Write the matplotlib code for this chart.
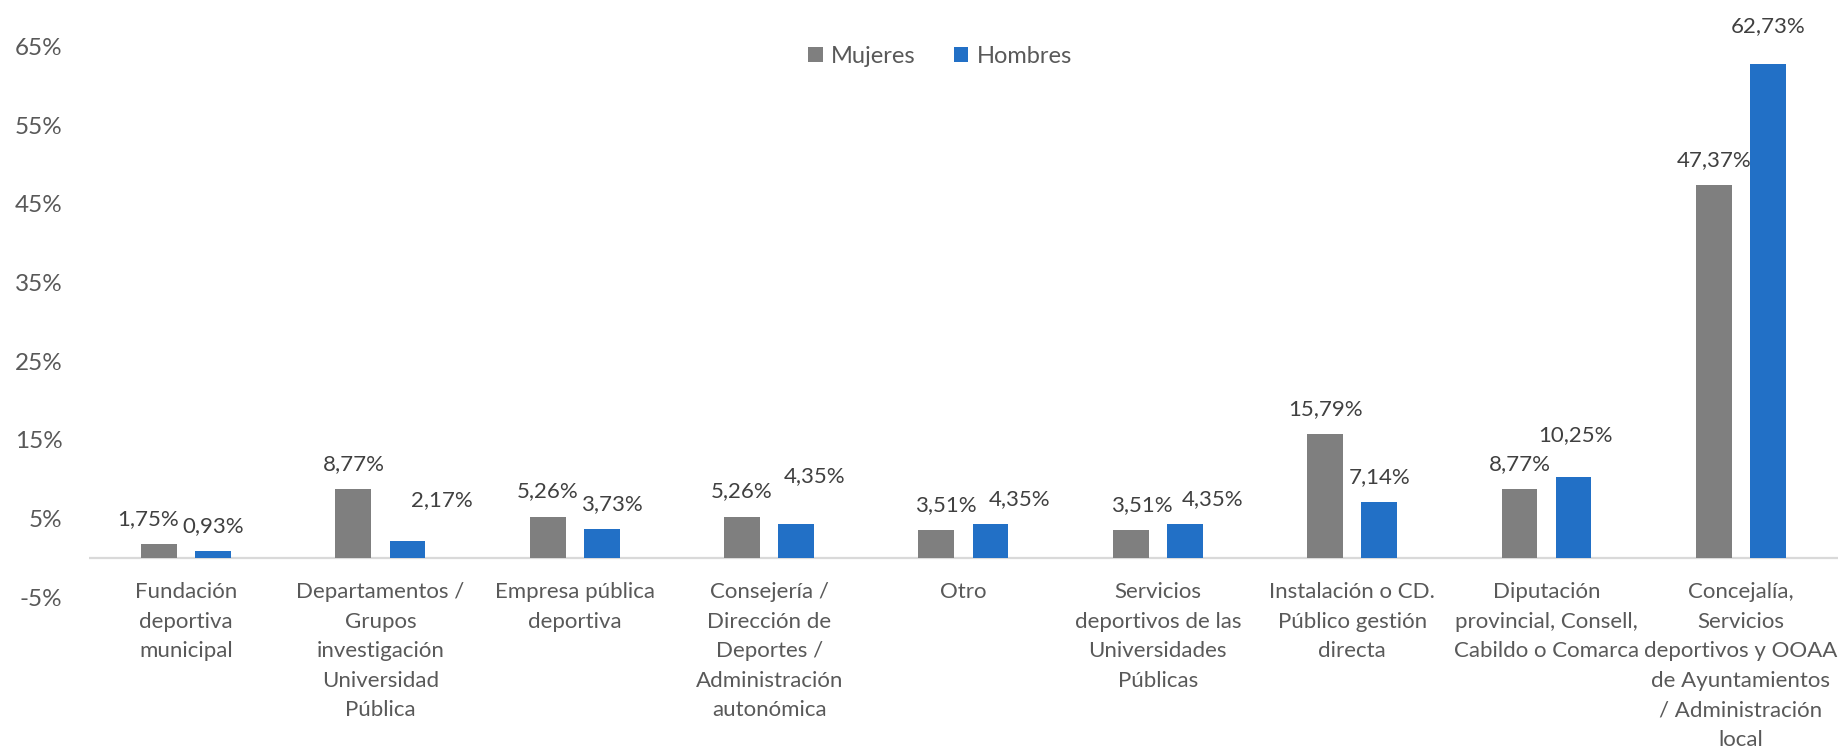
import matplotlib
matplotlib.use("Agg")
import matplotlib.pyplot as plt
import numpy as np

plt.rcParams["font.family"] = ["Lato", "DejaVu Sans"]

# ── Data ──────────────────────────────────────────────────────────────────────
CATEGORIES = [
    "Fundación\ndeportiva\nmunicipal",
    "Departamentos /\nGrupos\ninvestigación\nUniversidad\nPública",
    "Empresa pública\ndeportiva",
    "Consejería /\nDirección de\nDeportes /\nAdministración\nautonómica",
    "Otro",
    "Servicios\ndeportivos de las\nUniversidades\nPúblicas",
    "Instalación o CD.\nPúblico gestión\ndirecta",
    "Diputación\nprovincial, Consell,\nCabildo o Comarca",
    "Concejalía,\nServicios\ndeportivos y OOAA\nde Ayuntamientos\n/ Administración\nlocal",
]
MUJERES = [1.75, 8.77, 5.26, 5.26, 3.51, 3.51, 15.79, 8.77, 47.37]
HOMBRES = [0.93, 2.17, 3.73, 4.35, 4.35, 4.35, 7.14, 10.25, 62.73]
Y_TICKS = [-5, 5, 15, 25, 35, 45, 55, 65]

GRAY = "#7F7F7F"
BLUE = "#2270C6"
TEXT = "#595959"
LABEL = "#404040"

# label nudges (pixels) where the original moved labels to avoid overlap
NUDGE = {
    (0, 0): (-11, 0),
    (1, 1): (34, 16),
    (1, 2): (10, 0),
    (1, 3): (18, 23),
    (0, 4): (9, 0),
    (1, 4): (29, 0),
    (0, 5): (11, 0),
    (1, 5): (28, 0),
    (1, 7): (2, 17),
    (1, 8): (0, 13),
}

# ── Plot ──────────────────────────────────────────────────────────────────────
fig = plt.figure(figsize=(18.38, 7.5), dpi=100)
ax = fig.add_axes([0.0484, 0.2036, 0.9516, 0.7345])

x = np.arange(len(CATEGORIES))
w = 0.185
off = 0.139
bars_m = ax.bar(x - off, MUJERES, w, color=GRAY, label="Mujeres", zorder=2)
bars_h = ax.bar(x + off, HOMBRES, w, color=BLUE, label="Hombres", zorder=2)

ax.set_xlim(-0.5, len(CATEGORIES) - 0.5)
ax.set_ylim(-5, 65)
ax.axhline(0, color="#D9D9D9", lw=1.6, zorder=1)

for s in ax.spines.values():
    s.set_visible(False)

ax.set_yticks(Y_TICKS)
ax.set_yticklabels([f"{v}%" for v in Y_TICKS], fontsize=17.5, color=TEXT)
ax.tick_params(axis="y", length=0, pad=19)
ax.set_xticks([])

px = 0.72  # points per pixel at dpi 100
for si, (vals, xs) in enumerate([(MUJERES, x - off), (HOMBRES, x + off)]):
    for i, v in enumerate(vals):
        dx, dy = NUDGE.get((si, i), (0, 0))
        ax.annotate(
            f"{v:.2f}%".replace(".", ","),
            xy=(xs[i], v), xytext=(dx * px, (19 + dy) * px),
            textcoords="offset points", ha="center", va="baseline",
            fontsize=16, color=LABEL,
        )

for i, cat in enumerate(CATEGORIES):
    ax.annotate(
        cat, xy=(i, 0), xytext=(0, -24 * px), textcoords="offset points",
        ha="center", va="top", fontsize=16, color=TEXT,
        linespacing=1.6, annotation_clip=False,
    )

leg = fig.legend(
    handles=[bars_m, bars_h], labels=["Mujeres", "Hombres"],
    loc="center", bbox_to_anchor=(0.5114, 0.925), ncol=2, frameon=False,
    fontsize=17, handlelength=0.63, handleheight=0.63,
    handletextpad=0.35, columnspacing=1.6,
)
for t in leg.get_texts():
    t.set_color(TEXT)

fig.savefig("out.png", dpi=100)
